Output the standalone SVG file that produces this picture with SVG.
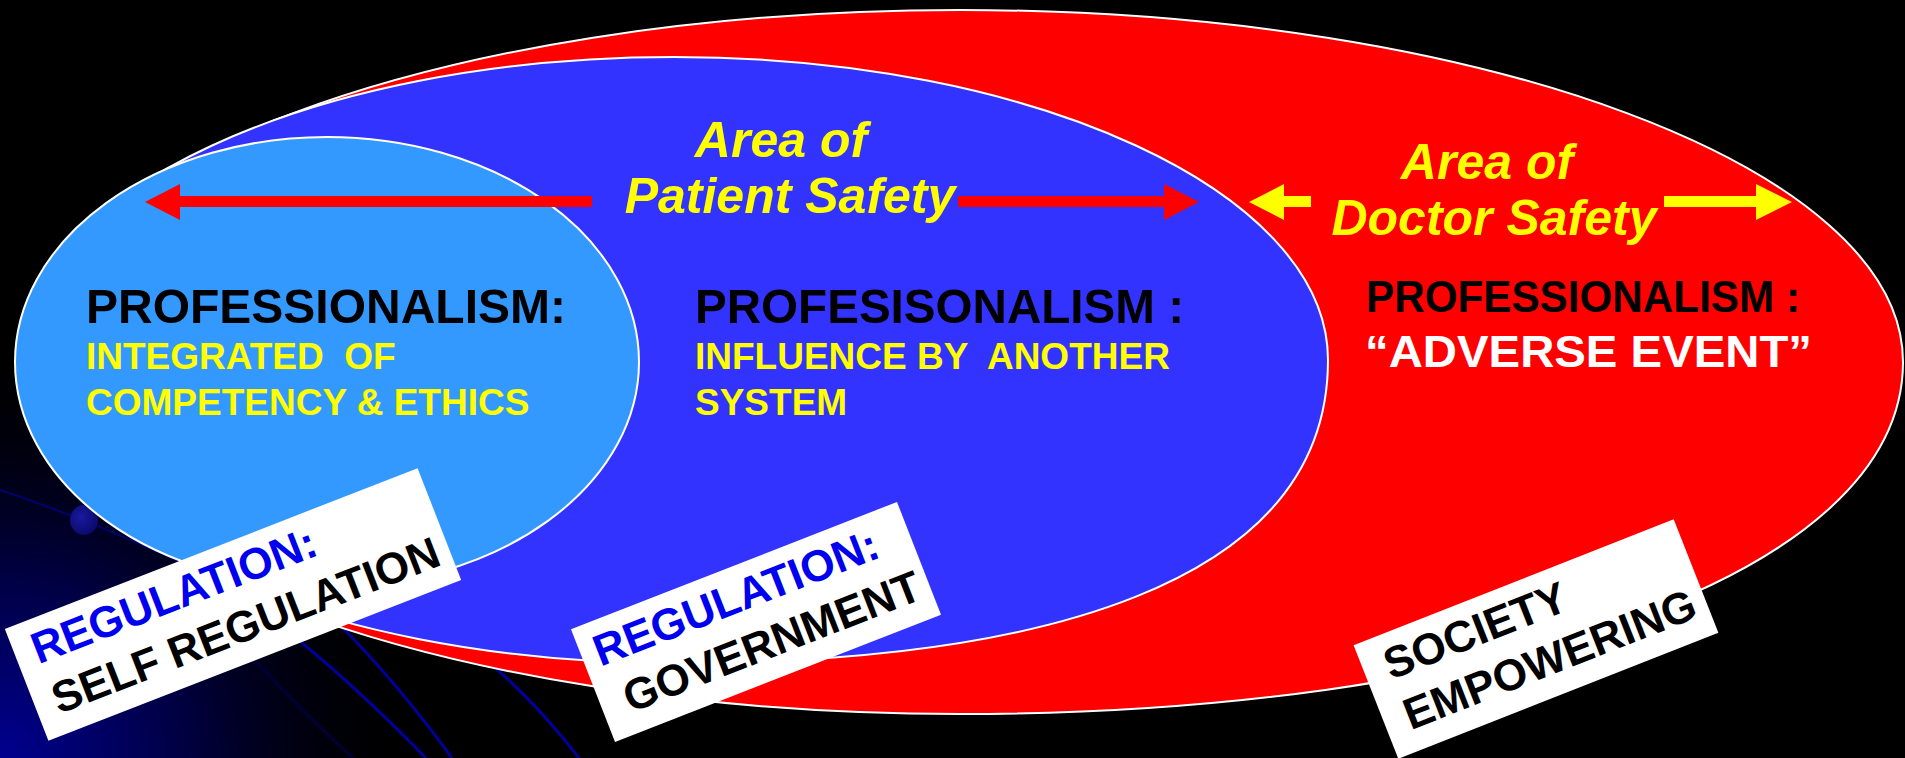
<svg xmlns="http://www.w3.org/2000/svg" width="1905" height="758" viewBox="0 0 1905 758">
<defs>
<radialGradient id="bgGlow" gradientUnits="userSpaceOnUse" cx="0" cy="758" r="420">
<stop offset="0" stop-color="#000090"/>
<stop offset="0.45" stop-color="#000040"/>
<stop offset="1" stop-color="#000000" stop-opacity="0"/>
</radialGradient>
<radialGradient id="dot" cx="0.4" cy="0.4" r="0.6">
<stop offset="0" stop-color="#1a1aa0"/>
<stop offset="1" stop-color="#0a0a70"/>
</radialGradient>
<style>
.shape{stroke:#ffffff;stroke-width:2}
.t{font-family:"Liberation Sans",Arial,sans-serif;font-weight:bold}
.it{font-style:italic;font-size:50px;fill:#ffff00;text-anchor:middle}
.head{font-size:49px;fill:#000}
.sub{font-size:37px;fill:#ffff00}
.lb{font-size:44px;fill:#000}
.blue{fill:#0000ee}
.deco{fill:none;stroke:#00009a;stroke-width:3}
</style>
</defs>
<rect width="1905" height="758" fill="#000"/>
<rect width="1905" height="758" fill="url(#bgGlow)"/>
<g id="background-decoration">
<path d="M0,490 Q90,520 180,562" fill="none" stroke="#000070" stroke-width="2"/>
<path d="M255,660 Q300,710 353,758" fill="none" stroke="#000038" stroke-width="3"/>
<path class="deco" d="M280,625 Q352,682 426,758"/>
<path class="deco" d="M335,620 Q397,682 452,758"/>
<path class="deco" d="M480,655 Q532,697 579,758"/>
<ellipse cx="84" cy="520" rx="14" ry="15" fill="url(#dot)"/>
</g>
<g id="doctor-safety-area">
<path class="shape" fill="#ff0000" d="M960,10 C1480.8,10 1903,167.6 1903,362 C1903,580 1480.8,714 960,714 C439.2,714 17,556.4 17,362 C17,167.6 439.2,10 960,10 Z"/>
</g>
<g id="patient-safety-area">
<path class="shape" fill="#3333ff" d="M674,57 C1035.2,57 1328,192.7 1328,360 C1328,587 1034,663 674,663 C312.8,663 20,527.3 20,360 C20,192.7 312.8,57 674,57 Z"/>
</g>
<g id="self-regulation-area">
<ellipse class="shape" fill="#3399ff" cx="327" cy="362" rx="312" ry="225"/>
</g>
<g id="connectors">
<polygon fill="#ff0000" points="145,202 180,184 180,196 592,196 592,207 180,207 180,220"/>
<polygon fill="#ff0000" points="958,196 1164,196 1164,184 1199,202 1164,220 1164,207 958,207"/>
<polygon fill="#ffff00" points="1249,202 1284,184 1284,196 1311,196 1311,207 1284,207 1284,220"/>
<polygon fill="#ffff00" points="1664,196 1756,196 1756,184 1792,202 1756,220 1756,207 1664,207"/>
</g>
<g id="patient-safety-label">
<text class="t it" x="781" y="157">Area of</text>
<text class="t it" x="790" y="213">Patient Safety</text>
</g>
<g id="doctor-safety-label">
<text class="t it" x="1487" y="179">Area of</text>
<text class="t it" x="1494" y="235">Doctor Safety</text>
</g>
<g id="professionalism-competency">
<text class="t head" x="86" y="323" textLength="480" lengthAdjust="spacingAndGlyphs">PROFESSIONALISM:</text>
<text class="t sub" x="86" y="369" xml:space="preserve">INTEGRATED  OF</text>
<text class="t sub" x="86" y="415">COMPETENCY &amp; ETHICS</text>
</g>
<g id="professionalism-system">
<text class="t head" x="695" y="323" textLength="489" lengthAdjust="spacingAndGlyphs">PROFESISONALISM :</text>
<text class="t sub" x="695" y="369" xml:space="preserve">INFLUENCE BY  ANOTHER</text>
<text class="t sub" x="695" y="415">SYSTEM</text>
</g>
<g id="professionalism-adverse">
<text class="t" x="1366" y="312" font-size="44" fill="#000" textLength="434" lengthAdjust="spacingAndGlyphs">PROFESSIONALISM :</text>
<text class="t" x="1365" y="367" font-size="44" fill="#fff" textLength="447" lengthAdjust="spacingAndGlyphs">“ADVERSE EVENT”</text>
</g>
<g id="label-self-regulation" transform="translate(233,604.5) rotate(-21.3)">
<rect x="-221.5" y="-60" width="443" height="120" fill="#fff"/>
<text class="t lb blue" x="-203" y="-15">REGULATION:</text>
<text class="t lb" x="-202" y="39">SELF REGULATION</text>
</g>
<g id="label-government" transform="translate(756,622) rotate(-21.35)">
<rect x="-175" y="-60.5" width="350" height="121" fill="#fff"/>
<text class="t lb blue" x="-161" y="-15">REGULATION:</text>
<text class="t lb" x="-150" y="39">GOVERNMENT</text>
</g>
<g id="label-society" transform="translate(1536,639) rotate(-21.5)">
<rect x="-172" y="-61" width="344" height="122" fill="#fff"/>
<text class="t lb" x="-150" y="-15">SOCIETY</text>
<text class="t lb" x="-150" y="39">EMPOWERING</text>
</g>
</svg>
